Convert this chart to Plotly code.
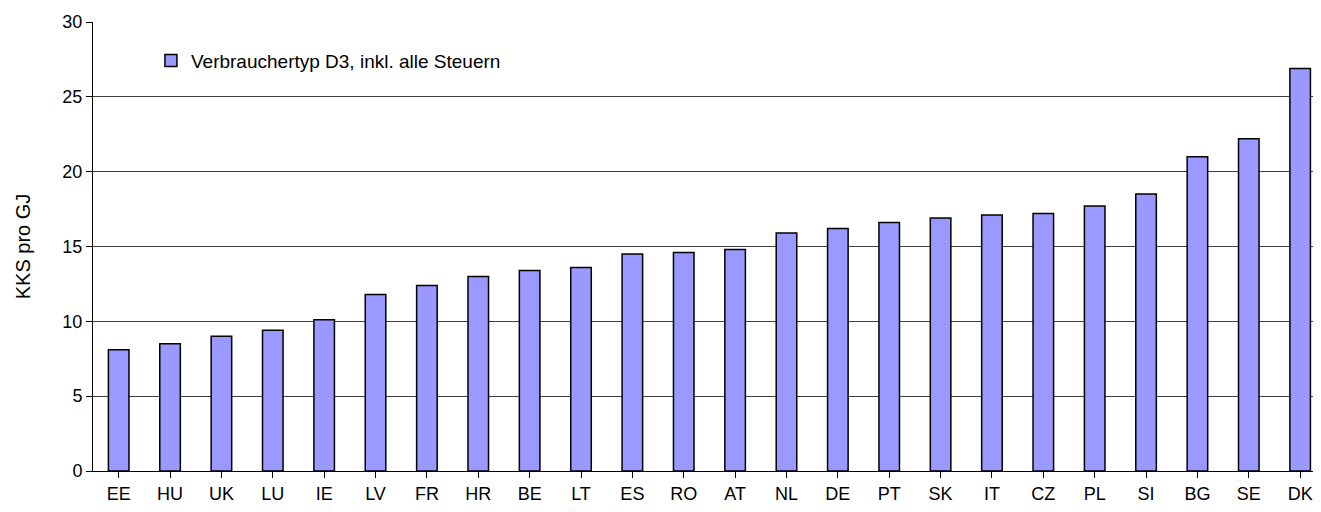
import plotly.graph_objects as go

countries = ["EE", "HU", "UK", "LU", "IE", "LV", "FR", "HR", "BE", "LT", "ES", "RO",
             "AT", "NL", "DE", "PT", "SK", "IT", "CZ", "PL", "SI", "BG", "SE", "DK"]
values = [8.1, 8.5, 9.0, 9.4, 10.1, 11.8, 12.4, 13.0, 13.4, 13.6, 14.5, 14.6,
          14.8, 15.9, 16.2, 16.6, 16.9, 17.1, 17.2, 17.7, 18.5, 21.0, 22.2, 26.9]
series_name = "Verbrauchertyp D3, inkl. alle Steuern"
y_title = "KKS pro GJ"
y_ticks = [0, 5, 10, 15, 20, 25, 30]

FONT = "Liberation Sans, Arial, sans-serif"

fig = go.Figure()
fig.add_trace(go.Bar(
    x=list(range(len(countries))),
    y=values,
    name=series_name,
    width=0.40,
    marker=dict(color="#9999FF", line=dict(color="#000000", width=1.5)),
    showlegend=True,
))

# page body keeps its default 8px margin; figure sized to fit inside the 1321x512 window
fig.update_layout(
    width=1305, height=496,
    margin=dict(l=85, r=0, t=14, b=30),
    paper_bgcolor="white", plot_bgcolor="white",
    font=dict(family=FONT, size=18, color="#000000"),
    showlegend=True,
    legend=dict(
        x=0.0475, y=0.9137, xanchor="left", yanchor="middle",
        bgcolor="rgba(0,0,0,0)", font=dict(family=FONT, size=19, color="#000000"),
        itemwidth=30,
    ),
    xaxis=dict(
        tickmode="array",
        tickvals=list(range(len(countries))),
        ticktext=countries,
        range=[-0.5, 23.25],
        showgrid=False,
        showline=True, linecolor="#000000", linewidth=1,
        ticks="outside", tickson="boundaries", ticklen=6, tickcolor="#000000",
        tickfont=dict(family=FONT, size=18),
        zeroline=False,
    ),
    yaxis=dict(
        range=[0, 30],
        tickmode="array", tickvals=y_ticks,
        showgrid=True, gridcolor="#404040", gridwidth=1,
        showline=True, linecolor="#000000", linewidth=1,
        ticks="outside", ticklen=6, tickcolor="#000000",
        tickfont=dict(family=FONT, size=18),
        title=dict(text=y_title, font=dict(family=FONT, size=20), standoff=26),
        zeroline=False,
    ),
)

fig.write_html("out.html")
